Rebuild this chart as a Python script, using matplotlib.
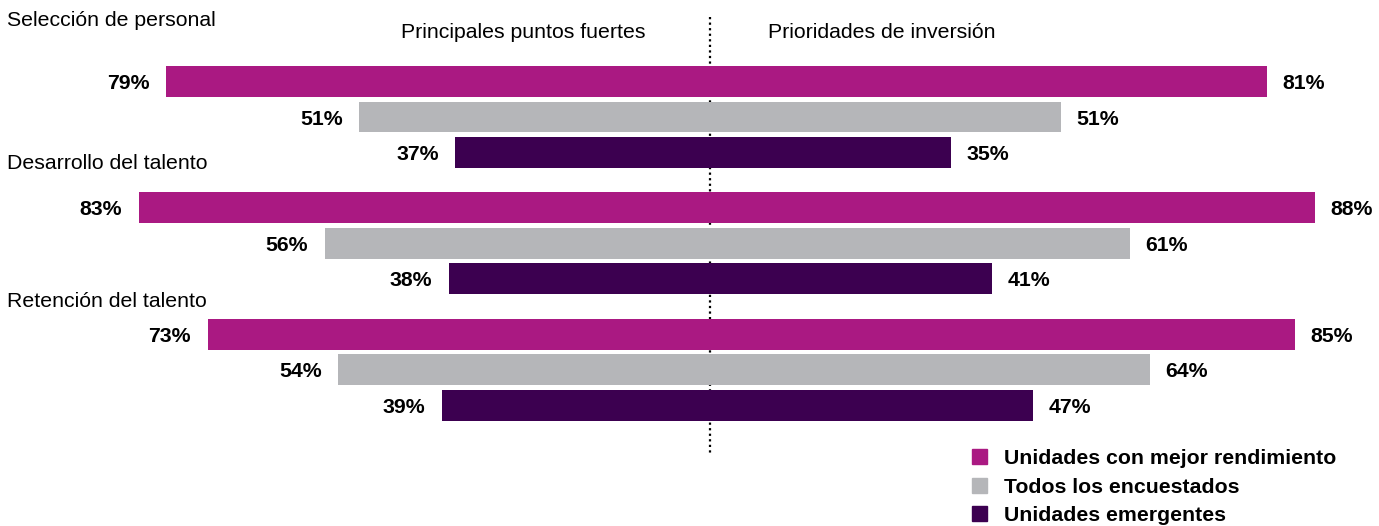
import matplotlib.pyplot as plt
from matplotlib.patches import Patch

plt.rcParams['font.family'] = ['Liberation Sans', 'DejaVu Sans']

categorias = ["Selección de personal", "Desarrollo del talento", "Retención del talento"]
series = ["Unidades con mejor rendimiento", "Todos los encuestados", "Unidades emergentes"]
colores = ["#AA1982", "#B5B6B9", "#3C0050"]

# puntos fuertes (izquierda) y prioridades de inversion (derecha)
fuertes = [
    [79, 83, 73],
    [51, 56, 54],
    [37, 38, 39],
]
inversion = [
    [81, 88, 85],
    [51, 61, 64],
    [35, 41, 47],
]

fs = 15.3
paso_grupo = 3.56
y_cat = [-1.73, 2.30, 6.21]
esc = 6.88  # pixeles por punto porcentual

fig = plt.figure(figsize=(13.79, 5.26), dpi=100)
ax = fig.add_axes([0, 0, 1, 1])
ax.set_xlim(-710 / esc, (1379 - 710) / esc)
ax.set_ylim(12.52, -2.296)
ax.axis("off")

# linea central punteada
ax.vlines(0, -1.82, 10.45, colors="black", linestyles=(0, (1, 1.5)), lw=1.6, zorder=0)

for j in range(3):
    for i in range(3):
        y = i * paso_grupo + j
        izq = fuertes[j][i]
        der = inversion[j][i]
        ax.barh(y, -izq, height=0.87, color=colores[j], zorder=2)
        ax.barh(y, der, height=0.87, color=colores[j], zorder=2)
        ax.annotate(f"{izq}%", (-izq, y), xytext=(-12, -1.5), textcoords="offset points",
                    ha="right", va="center", fontsize=fs, fontweight="bold")
        ax.annotate(f"{der}%", (der, y), xytext=(11, -1.5), textcoords="offset points",
                    ha="left", va="center", fontsize=fs, fontweight="bold")

for cat, yc in zip(categorias, y_cat):
    ax.text(-703 / esc, yc, cat, ha="left", va="center", fontsize=fs)

ax.text(-64 / esc, -1.37, "Principales puntos fuertes", ha="right", va="center", fontsize=fs)
ax.text(58 / esc, -1.37, "Prioridades de inversión", ha="left", va="center", fontsize=fs)

handles = [Patch(color=c, label=s) for c, s in zip(colores, series)]
leg = fig.legend(handles=handles, loc="upper left", bbox_to_anchor=(972 / 1379, 1 - 449 / 526),
                 frameon=False, handlelength=0.7, handleheight=0.7, handletextpad=0.8,
                 labelspacing=0.45, borderaxespad=0, borderpad=0,
                 prop={"size": fs, "weight": "bold"})

fig.savefig("out.png", dpi=100)
